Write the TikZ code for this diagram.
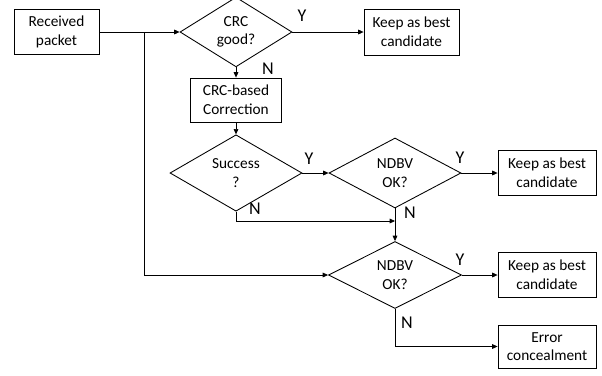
\documentclass[tikz,border=0pt]{standalone}
\usepackage{fontspec}
\setmainfont{Carlito}
\usetikzlibrary{positioning}
\usetikzlibrary{shapes.geometric}
\usetikzlibrary{arrows.meta}

\begin{document}
\begin{tikzpicture}[x=0.75pt,y=-0.75pt,align=center,font=\fontsize{11.5}{14}\selectfont,
blocco/.style={draw,line width=0.65pt,inner sep=0pt,minimum height=33.75pt},
rombo/.style={draw,diamond,line width=0.65pt,inner sep=0pt},
risposta/.style={font=\fontsize{13.5}{14}\selectfont,inner sep=0pt},
freccia/.style={line width=0.5pt,-{Triangle[length=4pt,width=3.5pt]}},
linea/.style={line width=0.5pt}
]
\useasboundingbox (0,0) rectangle (602,375);
%-- ingresso e primo controllo
\node[blocco,minimum width=63.75pt] (rp) at (56.5,32) {Received\\packet};
\node[rombo,minimum width=84pt,minimum height=48pt] (c1) at (236,32) {CRC\\good?};
\node[blocco,minimum width=71.25pt,minimum height=34.5pt] (k1) at (411.5,32) {Keep as best\\candidate};
\coordinate (bivio) at (144,32);
\draw [freccia] (rp) -- (c1);
\draw [freccia] (c1) -- (k1);
\node[risposta] (y1) at (302,16) {Y};
\node[risposta] (n1l) at (268,69) {N};
%-- correzione
\node[blocco,minimum width=68.25pt,minimum height=33pt] (cb) at (236,100) {CRC-based\\Correction};
\draw [freccia] (c1) -- (cb);
\node[rombo,minimum width=99pt,minimum height=51pt] (s) at (236,173) {Success\\?};
\draw [freccia] (cb) -- (s);
\node[risposta] (y2) at (309,159) {Y};
\node[risposta] (n2l) at (255,209) {N};
%-- primo NDBV
\node[rombo,minimum width=99pt,minimum height=52.5pt] (n1) at (395,173) {NDBV\\OK?};
\draw [freccia] (s) -- (n1);
\node[blocco,minimum width=73.5pt] (k2) at (547,173) {Keep as best\\candidate};
\draw [freccia] (n1) -- (k2);
\node[risposta] (y3) at (460,158) {Y};
\node[risposta] (n3l) at (410,213) {N};
\coordinate (unione) at (395,221);
\draw [freccia] (s.south) |- (unione);
%-- secondo NDBV
\node[rombo,minimum width=99.75pt,minimum height=50.25pt] (n2) at (395,275) {NDBV\\OK?};
\draw [freccia] (n1) -- (n2);
\draw [freccia] (bivio) |- (n2);
\node[blocco,minimum width=73.5pt] (k3) at (547,275) {Keep as best\\candidate};
\draw [freccia] (n2) -- (k3);
\node[risposta] (y4) at (460,260) {Y};
\node[risposta] (n4l) at (407,323) {N};
\node[blocco,minimum width=73.5pt,minimum height=32.25pt] (er) at (547,346.5) {Error\\concealment};
\draw [freccia] (n2.south) |- (er);
\end{tikzpicture}
\end{document}
